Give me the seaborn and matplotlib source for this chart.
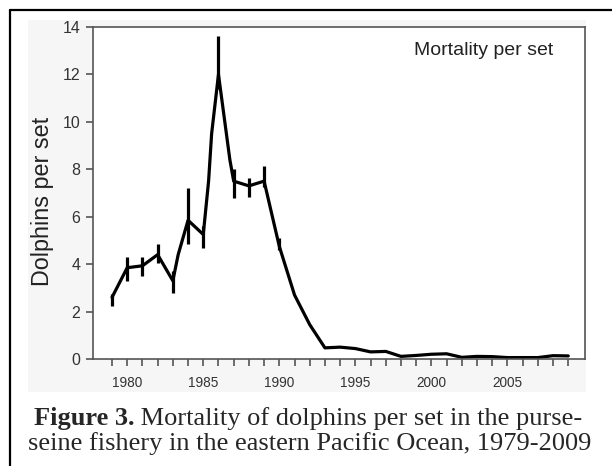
import matplotlib
matplotlib.use("Agg")
import matplotlib.pyplot as plt
import seaborn as sns
import numpy as np
from matplotlib.patches import Rectangle
from matplotlib.lines import Line2D

# mortality per set (a few extra points where the line bends)
years = [1979, 1980, 1981, 1982, 1983, 1983.35, 1984, 1985, 1985.35, 1985.55,
         1986, 1986.75, 1987, 1988, 1989, 1990, 1991, 1992, 1993, 1994, 1995,
         1996, 1997, 1998, 1999, 2000, 2001, 2002, 2003, 2004, 2005, 2006,
         2007, 2008, 2009]
deaths_per_set = [2.6, 3.85, 3.93, 4.4, 3.3, 4.4, 5.85, 5.25, 7.5, 9.5,
                  12.0, 8.4, 7.5, 7.3, 7.5, 4.75, 2.7, 1.45, 0.47, 0.5, 0.44,
                  0.3, 0.32, 0.11, 0.15, 0.2, 0.22, 0.07, 0.11, 0.1, 0.06, 0.06,
                  0.06, 0.14, 0.13]

# error bars (low / high) for the years that show them
err_years = [1979, 1980, 1981, 1982, 1983, 1984, 1985, 1986, 1987, 1988, 1989, 1990]
err_lo = [2.25, 3.3, 3.5, 4.05, 2.8, 4.85, 4.7, 11.4, 6.8, 6.85, 7.25, 4.6]
err_hi = [2.75, 4.3, 4.3, 4.85, 3.7, 7.2, 5.6, 13.6, 8.0, 7.65, 8.15, 5.1]

year_ticks = list(range(1979, 2010))
year_labels = [str(y) if y % 5 == 0 else "" for y in year_ticks]

sns.set_style("ticks")
plt.rcParams["font.family"] = ["Liberation Sans", "DejaVu Sans"]

W, H = 612, 466
fig = plt.figure(figsize=(W / 100, H / 100), dpi=100)

def fx(px):
    return px / W

def fy(py):
    return 1 - py / H

# light grey backdrop of the pasted chart
fig.patches.append(Rectangle((fx(28), fy(392)), fx(586) - fx(28), fy(20) - fy(392),
                             transform=fig.transFigure, facecolor="#f6f6f6",
                             edgecolor="none", zorder=-5))
# outer frame (only top and left are in the crop)
fig.lines.append(Line2D([fx(10), fx(10)], [0, fy(10)], transform=fig.transFigure,
                        color="black", lw=1.6))
fig.lines.append(Line2D([fx(10), 1], [fy(10), fy(10)], transform=fig.transFigure,
                        color="black", lw=1.6))

ax = fig.add_axes([fx(93), fy(359), fx(585) - fx(93), fy(27) - fy(359)])
ax.set_zorder(2)
ax.set_facecolor("white")

sns.lineplot(x=years, y=deaths_per_set, color="black", lw=2.3, ax=ax)
ax.vlines(err_years, err_lo, err_hi, color="black", lw=2.3)

ax.set_xlim(1977.75, 2010.1)
ax.set_ylim(0, 14)
ax.set_yticks(range(0, 15, 2))
ax.set_xticks(year_ticks)
ax.set_xticklabels(year_labels)

for s in ax.spines.values():
    s.set_color("#555555")
    s.set_linewidth(1.2)
ax.tick_params(axis="y", colors="#555555", labelcolor="#333333", labelsize=11.5,
               length=5, width=1.2, pad=4)
ax.tick_params(axis="x", colors="#555555", labelcolor="#333333", labelsize=9.8,
               length=5, width=1.2, pad=7)
ax.set_xlabel("")
ax.set_ylabel("")

fig.text(fx(43), fy(201), "Dolphins per set", rotation=90, ha="center",
         va="center", fontsize=16.8, color="#222222")
fig.text(fx(553), fy(55), "Mortality per set", ha="right", va="baseline",
         fontsize=14, color="#222222", zorder=5)

# caption: bold lead-in followed by regular text
serif = ["Liberation Serif", "DejaVu Serif"]
cap_size = 19
line1_bold = "Figure 3."
line1_rest = " Mortality of dolphins per set in the purse-"
line2 = "seine fishery in the eastern Pacific Ocean, 1979-2009"

fig.canvas.draw()
r = fig.canvas.get_renderer()
t_b = fig.text(0, fy(425), line1_bold, fontfamily=serif, fontsize=cap_size,
               fontweight="bold", va="baseline")
t_r = fig.text(0, fy(425), line1_rest, fontfamily=serif, fontsize=cap_size,
               va="baseline")
wb = t_b.get_window_extent(r).width
wr = t_r.get_window_extent(r).width
x0 = 308 - (wb + wr) / 2
t_b.set_x(fx(x0))
t_r.set_x(fx(x0 + wb))
fig.text(fx(310), fy(450), line2, fontfamily=serif, fontsize=cap_size,
         ha="center", va="baseline")

fig.savefig("out.png", dpi=100)
